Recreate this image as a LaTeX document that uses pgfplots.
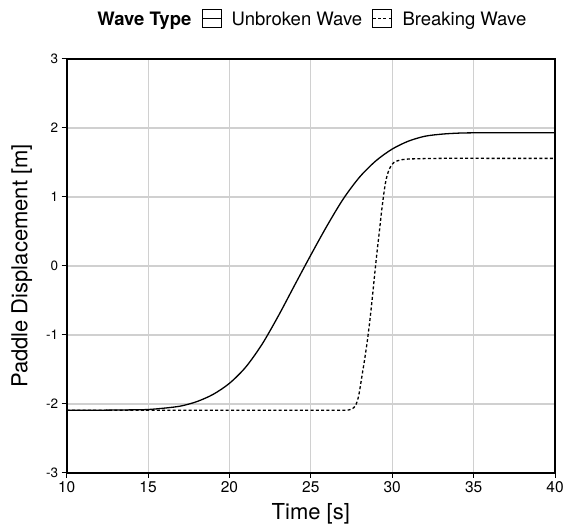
\documentclass[border=0pt]{standalone}
\usepackage{fontspec}
\setmainfont{TeX Gyre Heros}
\usepackage{pgfplots}
\pgfplotsset{compat=1.18}
\definecolor{gridgray}{RGB}{208,208,208}

\begin{document}
\begin{tikzpicture}
\begin{axis}[
  name=ax,
  scale only axis, width=488.3pt, height=414pt,
  xmin=10, xmax=40, ymin=-3, ymax=3,
  xtick={10,15,...,40}, ytick={-3,-2,...,3},
  grid=major, major grid style={gridgray, line width=1.1pt},
  axis line style={black, line width=1.2pt},
  tick align=outside, xtick pos=bottom, ytick pos=left,
  major tick length=5pt, tick style={black, line width=1pt},
  /pgf/number format/assume math mode=true,
  xticklabel style={font=\fontsize{15.5}{15.5}\selectfont},
  yticklabel style={font=\fontsize{13.5}{13.5}\selectfont},
  xlabel={Time [s]}, ylabel={Paddle Displacement [m]},
  xlabel style={font=\fontsize{22}{22}\selectfont, at={(axis description cs:0.5,-0.1118)}, anchor=base},
  ylabel style={font=\fontsize{22}{22}\selectfont, at={(axis description cs:-0.0807,0.5)}, anchor=base},
  legend style={at={(axis description cs:0.5,1)}, anchor=south, yshift=29pt, xshift=-4pt,
    draw=none, fill=none, font=\fontsize{18.5}{18.5}\selectfont,
    /tikz/every odd column/.style={column sep=10pt},
    /tikz/every even column/.style={column sep=10pt},
    nodes={inner sep=0pt, text height=14pt, text depth=1pt}},
  legend columns=-1, legend cell align=left,
  legend image code/.code={
    \draw[solid, black, line width=0.9pt] (0pt,-8.7pt) rectangle (19pt,8.7pt);
    \draw[#1] (0pt,0pt) -- (19pt,0pt);
  },
]
\addlegendimage{empty legend}
\addlegendentry{\textbf{Wave Type}}

\addplot[black, line width=1.3pt, smooth] coordinates {
(10,-2.09) (12,-2.09) (14,-2.085) (15,-2.08) (16,-2.06) (17,-2.03) (18,-1.965)
(19,-1.86) (20,-1.70) (21,-1.465) (22,-1.135) (23,-0.725) (24,-0.28) (25,0.16)
(26,0.585) (27,0.975) (28,1.29) (29,1.525) (30,1.695) (31,1.81) (32,1.88)
(33,1.91) (34,1.925) (35,1.93) (37,1.93) (40,1.93)
};
\addlegendentry{Unbroken Wave}

\addplot[black, line width=1.3pt, dash pattern=on 3pt off 2.3pt, smooth] coordinates {
(10,-2.09) (15,-2.09) (20,-2.09) (25,-2.09) (27,-2.09) (27.35,-2.085) (27.55,-2.07)
(27.75,-2.02) (27.9,-1.92) (28.0,-1.80) (28.15,-1.58) (28.3,-1.36) (28.45,-1.12)
(28.6,-0.84) (28.75,-0.52) (28.9,-0.17) (29.05,0.17) (29.2,0.48) (29.38,0.86)
(29.58,1.2) (29.75,1.36) (29.9,1.44) (30.1,1.50) (30.4,1.53) (31,1.55) (33,1.56)
(36,1.56) (40,1.56)
};
\addlegendentry{Breaking Wave}
\end{axis}
\draw[line width=2pt, black] (ax.north west) -- (ax.south west) -- (ax.south east);
\pgfresetboundingbox
\path ([xshift=-66.7pt,yshift=-54pt]ax.south west) rectangle ([xshift=9pt,yshift=59pt]ax.north east);
\end{tikzpicture}
\end{document}
